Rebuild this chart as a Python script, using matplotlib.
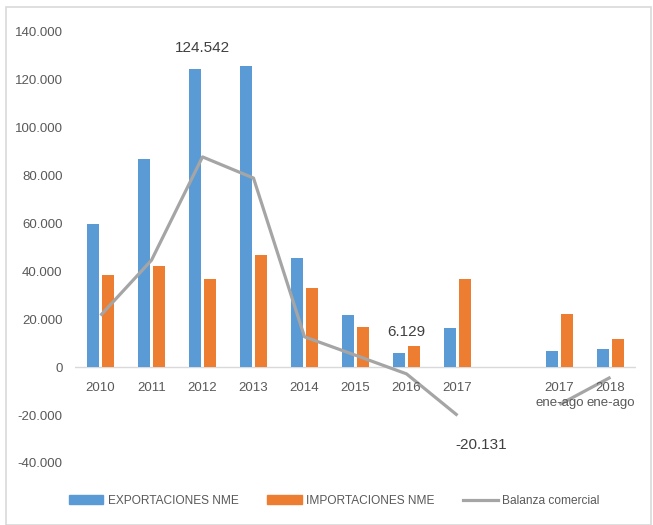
import matplotlib
matplotlib.use("Agg")
import matplotlib.pyplot as plt
from matplotlib.patches import Rectangle
from matplotlib.lines import Line2D
import numpy as np

categories = ["2010", "2011", "2012", "2013", "2014", "2015", "2016", "2017", "",
              "2017\nene-ago", "2018\nene-ago"]
exportaciones = [60000, 86900, 124542, 125800, 45600, 21900, 6129, 16500, np.nan, 6800, 7600]
importaciones = [38400, 42200, 36700, 46800, 32900, 16900, 8900, 36700, np.nan, 22400, 11800]
balanza = [21600, 44700, 87842, 79000, 12700, 5000, -2771, -20131, np.nan, -15600, -4200]
yticks = [-40000, -20000, 0, 20000, 40000, 60000, 80000, 100000, 120000, 140000]
ytick_labels = ["-40.000", "-20.000", "0", "20.000", "40.000", "60.000", "80.000",
                "100.000", "120.000", "140.000"]
data_labels = {2: "124.542", 6: "6.129", 7: "-20.131"}

BLUE = "#5B9BD5"
ORANGE = "#ED7D31"
GRAY = "#A5A5A5"
TXT = "#595959"
FONT = ["Liberation Sans Narrow", "Liberation Sans", "DejaVu Sans"]
plt.rcParams["font.family"] = FONT

fig = plt.figure(figsize=(6.53, 5.25), dpi=100)
W, H = 653, 525
ax = fig.add_axes([75 / W, 1 - 463 / H, (636 - 75) / W, (463 - 32) / H])

x = np.arange(len(categories))
bw = 0.235
off = 0.15
ax.bar(x - off, exportaciones, bw, color=BLUE, zorder=2)
ax.bar(x + off, importaciones, bw, color=ORANGE, zorder=2)
ax.plot(x, balanza, color=GRAY, lw=2.3, zorder=3, solid_capstyle="butt")

ax.set_xlim(-0.5, len(categories) - 0.5)
ax.set_ylim(-40000, 140000)
ax.axhline(0, color="#D9D9D9", lw=1, zorder=1)
for s in ax.spines.values():
    s.set_visible(False)
ax.set_xticks([])
ax.set_yticks(yticks)
ax.set_yticklabels(ytick_labels)
ax.tick_params(axis="y", length=0, pad=9, labelsize=9.5, labelcolor=TXT)

for i, c in enumerate(categories):
    if c:
        ax.annotate(c, (x[i], 0), xytext=(0, -11), textcoords="offset points",
                    ha="center", va="top", fontsize=9.5, color=TXT, linespacing=1.3)

for i, lab in data_labels.items():
    if i == 7:
        ax.annotate(lab, (x[i], balanza[i]), xytext=(17, -16), textcoords="offset points",
                    ha="center", va="top", fontsize=11, color="#404040")
    else:
        ax.annotate(lab, (x[i], exportaciones[i]), xytext=(0, 10), textcoords="offset points",
                    ha="center", va="bottom", fontsize=11, color="#404040")

# border
fig.add_artist(Rectangle((6 / W, 0.0), (651 - 6) / W, (525 - 7) / H,
                         transform=fig.transFigure, fill=False, ec="#D9D9D9", lw=1.2))

handles = [Rectangle((0, 0), 1, 1, color=BLUE), Rectangle((0, 0), 1, 1, color=ORANGE),
           Line2D([0], [0], color=GRAY, lw=2.3)]
fig.legend(handles, ["EXPORTACIONES NME", "IMPORTACIONES NME", "Balanza comercial"],
           loc="center", bbox_to_anchor=(334 / W, 1 - 501 / H), ncol=3, frameon=False,
           fontsize=8.6, labelcolor=TXT, handlelength=2.9, handleheight=0.8,
           columnspacing=2.4, handletextpad=0.35)

fig.savefig("out.png", dpi=100, facecolor="white")
